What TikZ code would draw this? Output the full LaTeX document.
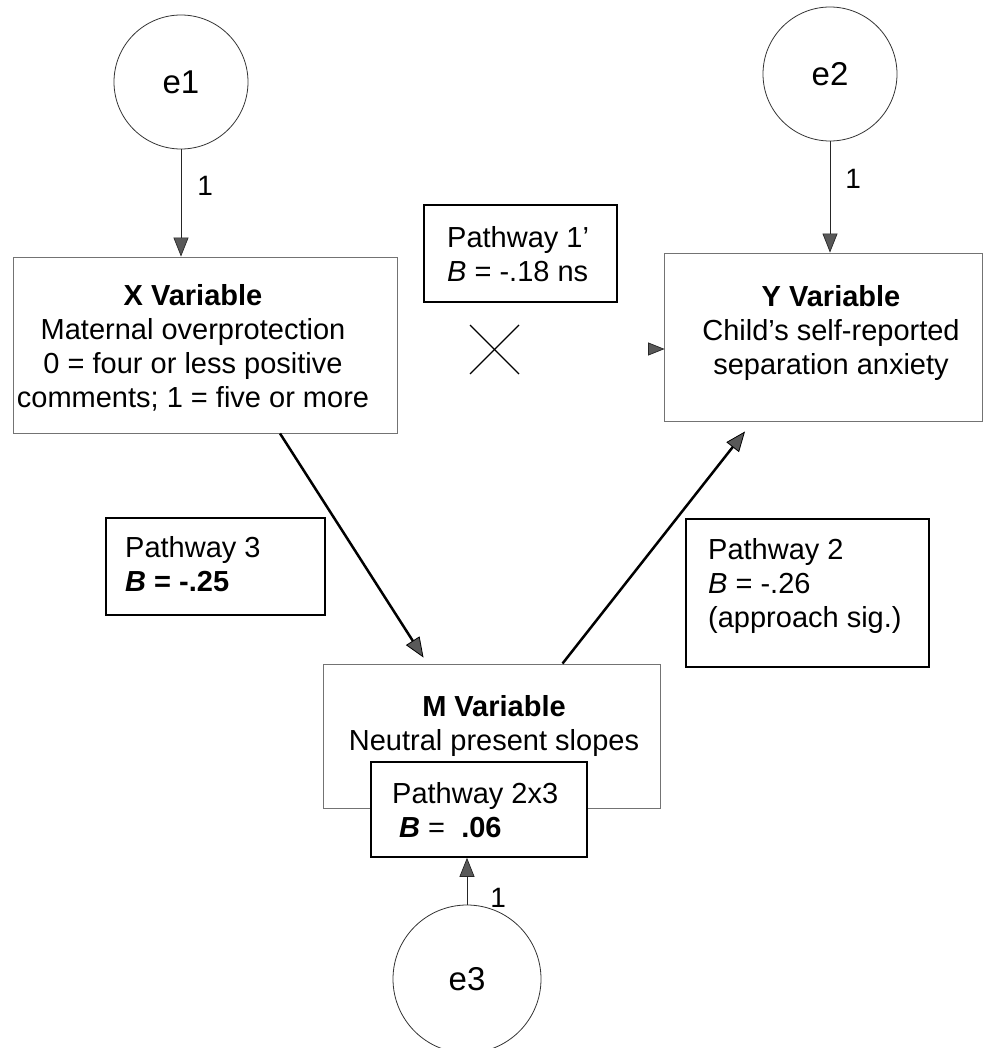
\documentclass[tikz,border=0pt]{standalone}
\usepackage{fontspec}
\setmainfont{Liberation Sans}
\usetikzlibrary{arrows.meta}
\begin{document}
\begin{tikzpicture}[x=1pt,y=-1pt,
  every node/.style={inner sep=0pt, font=\fontsize{29}{34}\selectfont},
  latent/.style={circle, draw=black!80, line width=0.8pt, font=\fontsize{33}{38}\selectfont},
  varbox/.style={rectangle, draw=black!55, line width=0.9pt},
  pathbox/.style={rectangle, draw=black, line width=1.5pt, fill=white},
  coef/.style={font=\fontsize{28}{32}\selectfont},
  thinarrow/.style={line width=0.9pt, draw=black!85,
    -{Triangle[length=19pt, width=15pt, line width=0.7pt, fill=black!65]}},
  thickarrow/.style={line width=2.5pt, draw=black,
    -{Triangle[length=20pt, width=16pt, line width=0.8pt, fill=black!65]}}]
\useasboundingbox (0,0) rectangle (993,1048);

% error terms
\node[latent, minimum size=134pt] (e1) at (181,82) {e1};
\node[latent, minimum size=134pt] (e2) at (830,74) {e2};
\node[latent, minimum size=148pt] (e3) at (467,979) {e3};

% observed variables
\node[varbox, minimum width=384pt, minimum height=176pt] (X) at (205,345) {};
\node[align=center] (Xt) at (193,348) {\textbf{X Variable}\\Maternal overprotection\\0 = four or less positive\\comments; 1 = five or more};

\node[varbox, minimum width=318pt, minimum height=168pt] (Y) at (823,337) {};
\node[align=center] (Yt) at (831,333) {\textbf{Y Variable}\\Child’s self-reported\\separation anxiety};

\node[varbox, minimum width=337pt, minimum height=144pt] (M) at (491.5,736) {};
\node[align=center] (Mt) at (494,726) {\textbf{M Variable}\\Neutral present slopes};

% pathway coefficients
\node[pathbox, minimum width=193pt, minimum height=97pt] (P1) at (520.5,253.5) {};
\node[align=left, anchor=west] (P1t) at (447,254) {Pathway 1’\\\textit{B} = -.18 ns};

\node[pathbox, minimum width=219pt, minimum height=97pt] (P3) at (215.5,566.5) {};
\node[align=left, anchor=west] (P3t) at (125,564) {Pathway 3\\\textbf{\textit{B} = -.25}};

\node[pathbox, minimum width=243pt, minimum height=148pt] (P2) at (807.5,593) {};
\node[align=left, anchor=west] (P2t) at (708,586) {Pathway 2\\\textit{B} = -.26\\(approach sig.)};

\node[pathbox, minimum width=216pt, minimum height=95pt] (P23) at (479,809.5) {};
\node[align=left, anchor=west] (P23t) at (392,810) {Pathway 2x3\\\hspace{7pt}\textbf{\textit{B}} =\ \ \textbf{.06}};

% error paths
\draw[thinarrow] (e1) -- node[coef, pos=0.34, anchor=west, xshift=16pt] {1} (e1 |- X.north);
\draw[thinarrow] (e2) -- node[coef, pos=0.34, anchor=west, xshift=15pt] {1} (e2 |- Y.north);
\draw[thinarrow] (e3) -- node[coef, pos=0.14, anchor=west, xshift=23pt] {1} (e3 |- P23.south);

% mediation paths
\draw[thickarrow] ([xshift=75pt]X.south) -- ([xshift=-68pt,yshift=6pt]M.north);
\draw[thickarrow] ([xshift=71pt]M.north) -- ([xshift=-78pt,yshift=-10pt]Y.south);

% removed direct path: remaining head and cross
\filldraw[draw=black!85, line width=0.7pt, fill=black!65]
  ([yshift=-12pt]Y.west) -- ++(-15pt,6pt) -- ++(0pt,-12pt) -- cycle;
\draw[line width=1.1pt] (470,325) -- (519,374);
\draw[line width=1.1pt] (470,374) -- (519,325);
\end{tikzpicture}
\end{document}
